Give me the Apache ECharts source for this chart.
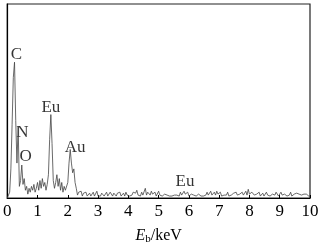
<!DOCTYPE html>
<html>
<head>
<meta charset="utf-8">
<script src="https://cdn.jsdelivr.net/npm/echarts@6/dist/echarts.min.js"></script>
<style>html,body{margin:0;padding:0;background:#fff}#c{width:325px;height:250px}</style>
</head>
<body>
<div id="c"></div>
<script>
// Sampling step of the spectrum (keV); counts, index i -> energy i*step
var energyStep = 0.04;
var counts = [
  0,0,3,15,38,62,70,40,18,37,
  6,9,17,7,10,4,6,2,5,3,
  6,4,7,3,5,8,4,9,5,10,
  6,8,4,7,12,30,43,28,9,5,
  8,12,6,10,4,8,3,6,4,3,
  8,18,25,18,13,15,8,5,1.5,3,
  2,3.5,1,2.5,1.5,3,1,2,2.5,1,
  2,3,1,2,3.5,1,2,1,2.5,1.5,
  1,2,3,1,1.5,3,2,1,2.5,1.5,
  1,2.5,1.5,3,1,2,2.5,1,3,1.5,
  2.5,1,2,1.5,3,2,2.5,4,1.5,2,
  1,3,1.5,2,5,1.5,3,2,1.5,3.5,
  2,1.5,3,1,2,3.5,1.5,2,1,1.5,
  2,1,1.5,2,1,1.5,1,2,1.5,1,
  1.5,2,1,3,1.5,2,3.5,2,1.5,3,
  1,1.5,2,1,1.5,2.5,1,1.5,2,1.5,
  1,1.5,1,2,1.5,3,1.5,2,3.5,1.5,
  2,3,1.5,3.5,2,1.5,3,1,2,1.5,
  2,1.5,3,1,2,1.5,1,2.5,1.5,3,
  1.5,1,2,1.5,3,1.5,2.5,3.5,1.5,4.5,
  2,1.5,3,2,1.5,1,2,1.5,3,1,
  1.5,2.5,1,1.5,3,1.5,2,1,1.5,2,
  1,1.5,3,2,1,1.5,3,1.5,1,2,
  1.5,1,2,1.5,3,1,1.5,2,1.5,2.5,
  1.5,2,1,1.5,2.5,2,1.5,2,1.5,1,
  1
];
var peakNames = ['C','N','O','Eu','Au','Eu'];
var peakX = [0.30, 0.50, 0.61, 1.44, 2.24, 5.87];
var peakY = [74, 34, 21.5, 46.5, 26, 8.7];
var xTicks = {min:0, max:10, interval:1};

var spectrum = counts.map(function(v,i){ return [+(i*energyStep).toFixed(2), v]; });
var labelsData = peakNames.map(function(n,i){ return {name:n, value:[peakX[i], peakY[i]]}; });

var serif = 'Liberation Serif';
var chart = echarts.init(document.getElementById('c'), null, {renderer:'canvas'});
chart.setOption({
  animation:false,
  grid:{left:7,right:15,top:4,bottom:51,show:true,borderColor:'#222',borderWidth:1.2,containLabel:false},
  xAxis:{type:'value',min:xTicks.min,max:xTicks.max,interval:xTicks.interval,
    axisLine:{show:true,lineStyle:{color:'#000',width:1.2}},
    axisTick:{show:true,inside:true,length:3,lineStyle:{color:'#000'}},
    splitLine:{show:false},
    axisLabel:{color:'#000',fontFamily:serif,fontSize:17,margin:5},
    name:'{i|E}{s|b}/keV',nameLocation:'middle',nameGap:29,
    nameTextStyle:{color:'#000',fontFamily:serif,fontSize:16,
      rich:{i:{fontStyle:'italic',fontFamily:serif,fontSize:16,color:'#000'},
            s:{fontFamily:serif,fontSize:11,color:'#000',padding:[7,0,0,0]}}}
  },
  yAxis:{type:'value',min:0,max:100,
    axisLine:{show:true,lineStyle:{color:'#000',width:1.2}},
    axisTick:{show:false},axisLabel:{show:false},splitLine:{show:false}},
  series:[
    {type:'line',data:spectrum,showSymbol:false,symbol:'none',
     lineStyle:{color:'#444',width:0.8},silent:true},
    {type:'scatter',data:labelsData,symbolSize:0,silent:true,
     label:{show:true,position:'inside',formatter:'{b}',color:'#000',fontFamily:serif,fontSize:17}}
  ]
});
</script>
</body>
</html>
